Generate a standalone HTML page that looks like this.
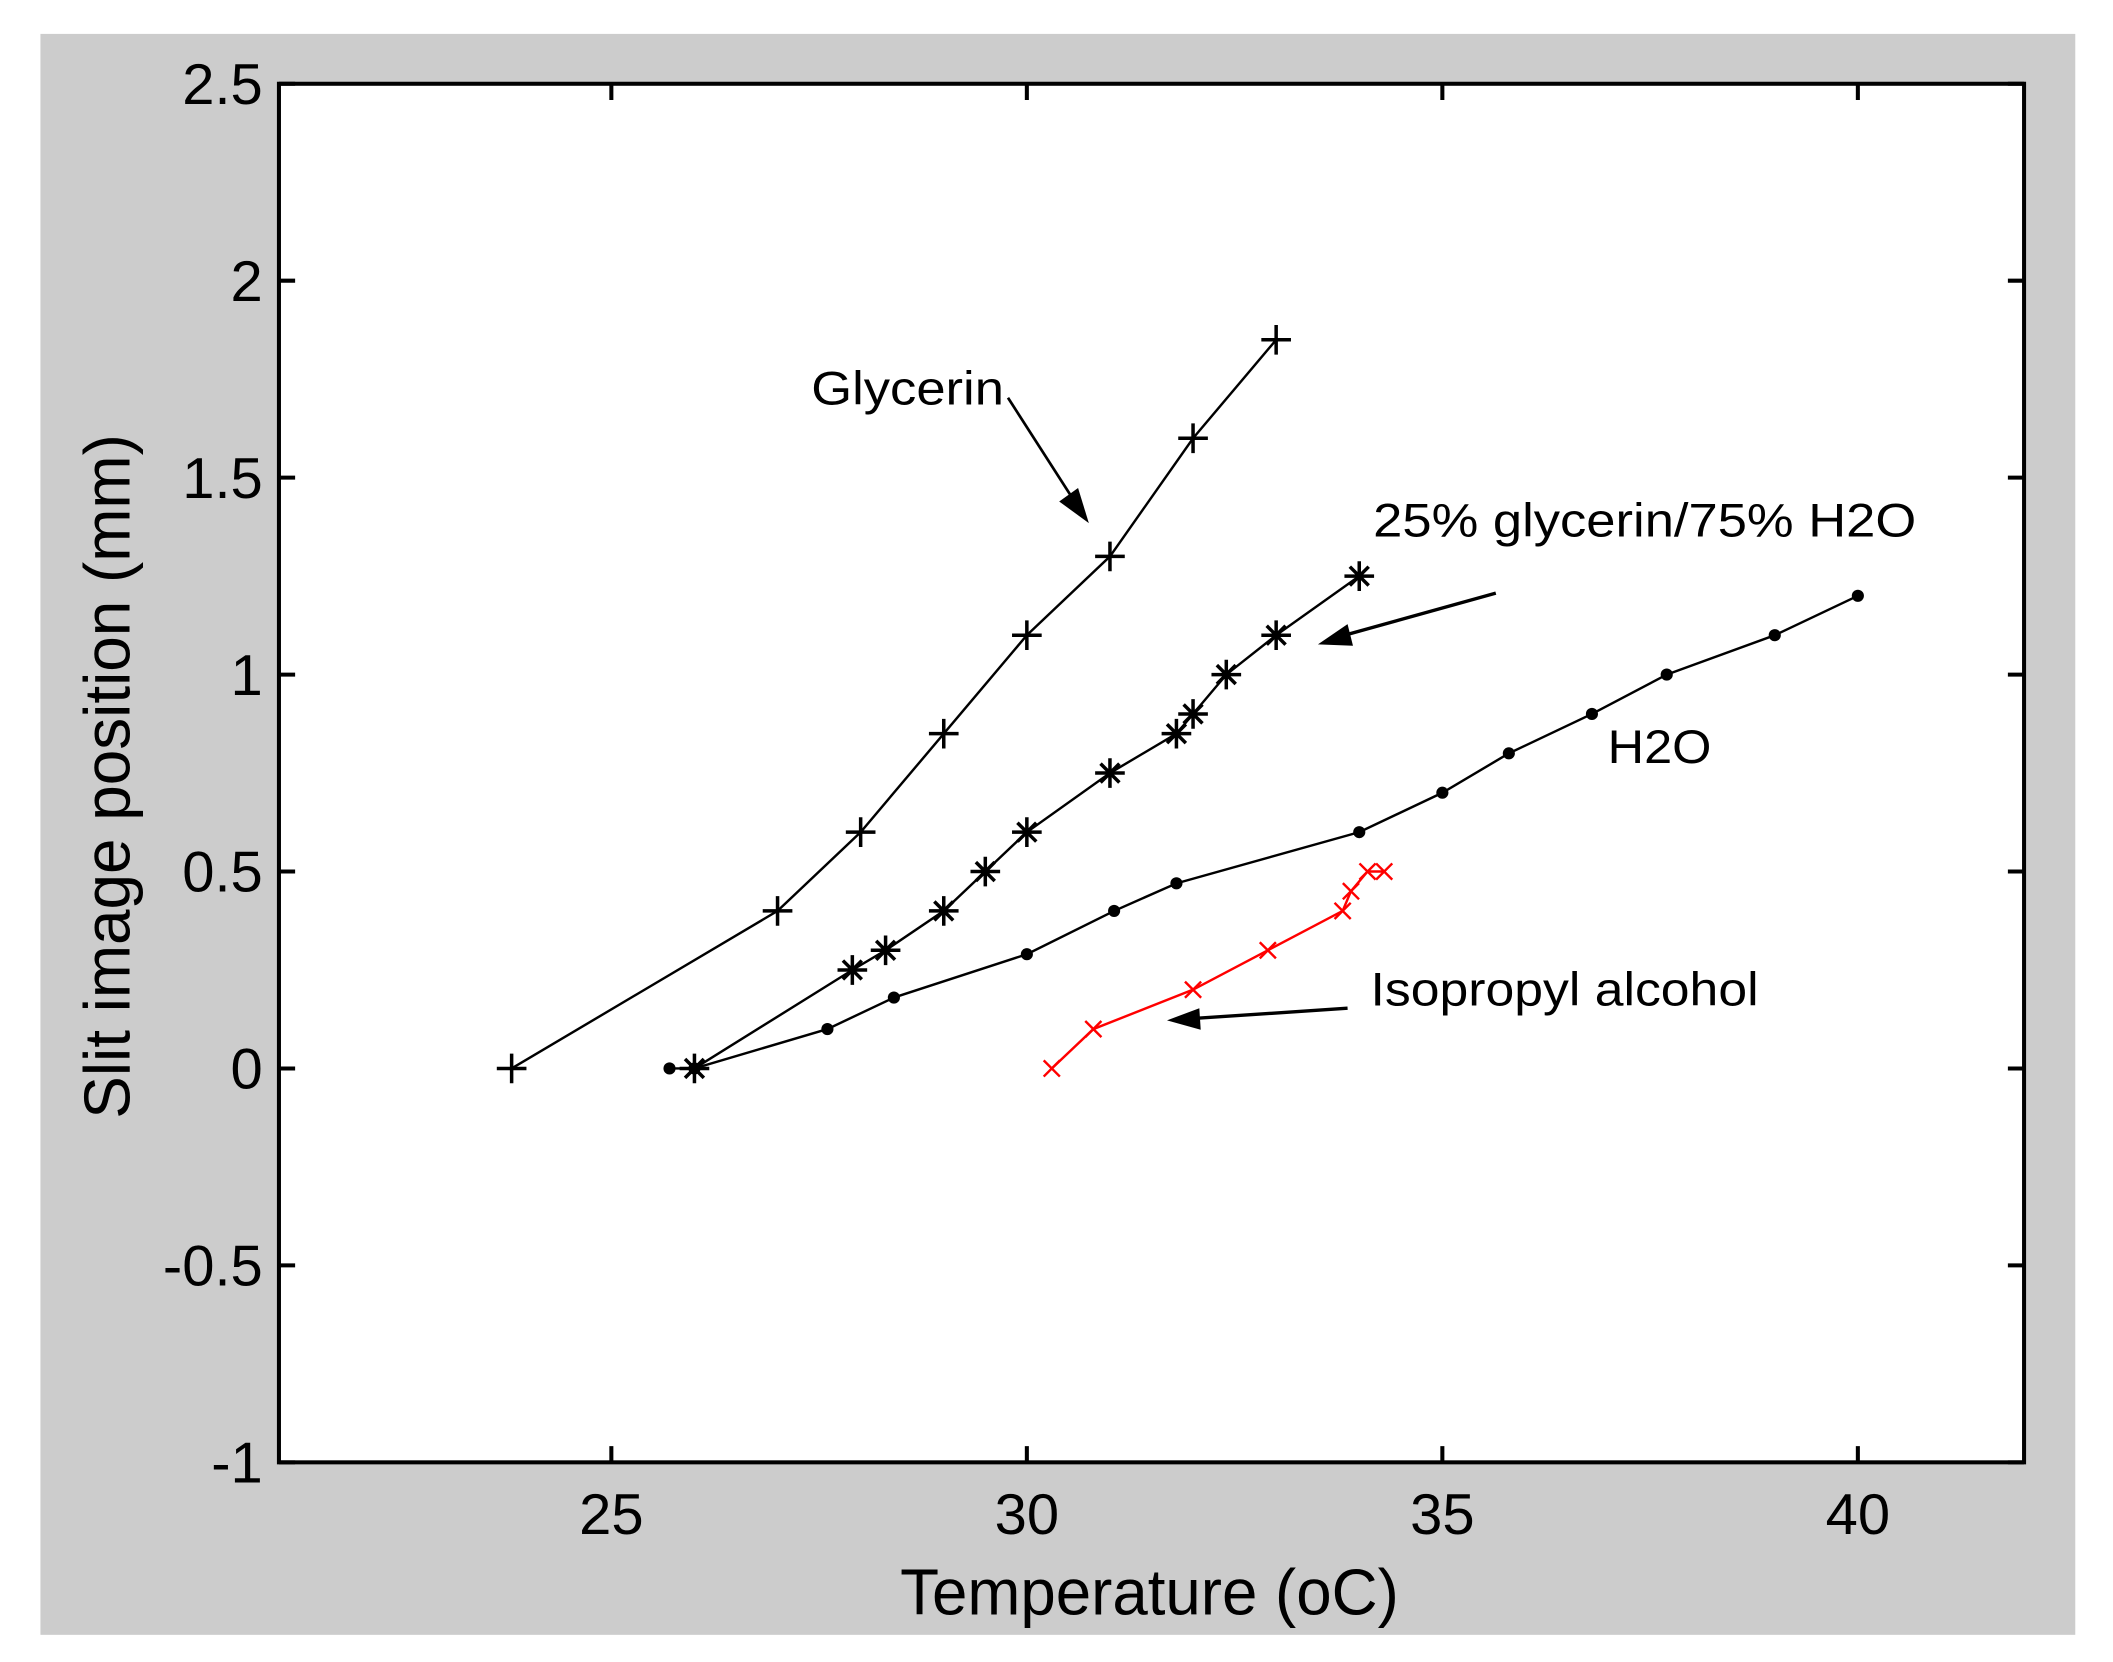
<!DOCTYPE html>
<html><head><meta charset="utf-8"><style>
html,body{margin:0;padding:0;background:#fff;}
svg{display:block;}
text{font-family:"Liberation Sans",Arial,sans-serif;fill:#000;}
</style></head><body>
<svg id="chart" width="2113" height="1662" viewBox="0 0 1568 1233" xmlns="http://www.w3.org/2000/svg">
<rect x="30" y="25" width="1510" height="1188" fill="#cccccc"/>
<rect x="207" y="62" width="1295" height="1023" fill="#fff"/>
<g id="marks"></g>
<g id="axes"></g>
<text x="668" y="1198" font-size="48" textLength="370" lengthAdjust="spacingAndGlyphs">Temperature (oC)</text>
<text transform="translate(96,830) rotate(-90)" font-size="48" textLength="508" lengthAdjust="spacingAndGlyphs">Slit image position (mm)</text>
<g font-size="35">
<text x="602" y="300" textLength="143" lengthAdjust="spacingAndGlyphs">Glycerin</text>
<text x="1019" y="398" textLength="403" lengthAdjust="spacingAndGlyphs">25% glycerin/75% H2O</text>
<text x="1193" y="566" textLength="77" lengthAdjust="spacingAndGlyphs">H2O</text>
<text x="1017" y="746" textLength="288" lengthAdjust="spacingAndGlyphs">Isopropyl alcohol</text>
<line x1="748" y1="295" x2="800" y2="376" stroke="#000" stroke-width="2"/>
<polygon points="808,388 786,372 800,362" fill="#000"/>
<line x1="1110" y1="440" x2="995" y2="472" stroke="#000" stroke-width="2.5"/>
<polygon points="978,478 1000,463 1004,479" fill="#000"/>
<line x1="1000" y1="748" x2="880" y2="756" stroke="#000" stroke-width="2.5"/>
<polygon points="866,757 890,748 891,764" fill="#000"/>
</g>
</svg>
<script>
const xTicks=[25,30,35,40];
const yTicks=[-1,-0.5,0,0.5,1,1.5,2,2.5];
const yTickLabels=["-1","-0.5","0","0.5","1","1.5","2","2.5"];
const glycerinX=[23.8,27,28,29,30,31,32,33];
const glycerinY=[0,0.4,0.6,0.85,1.1,1.3,1.6,1.85];
const mixX=[26,27.9,28.3,29,29.5,30,31,31.8,32,32.4,33,34];
const mixY=[0,0.25,0.3,0.4,0.5,0.6,0.75,0.85,0.9,1.0,1.1,1.25];
const waterX=[25.7,26,27.6,28.4,30,31.05,31.8,34,35,35.8,36.8,37.7,39,40];
const waterY=[0,0,0.1,0.18,0.29,0.4,0.47,0.6,0.7,0.8,0.9,1.0,1.1,1.2];
const isoX=[30.3,30.8,32,32.9,33.8,33.9,34.1,34.3];
const isoY=[0,0.1,0.2,0.3,0.4,0.45,0.5,0.5];
const L=207,R=1502,T=62,B=1085,XMIN=21,XMAX=42,YMIN=-1,YMAX=2.5;
const sx=v=>L+(v-XMIN)/(XMAX-XMIN)*(R-L);
const sy=v=>B-(v-YMIN)/(YMAX-YMIN)*(B-T);
const NS="http://www.w3.org/2000/svg";
const marks=document.getElementById('marks'),axes=document.getElementById('axes');
function mk(tag,attrs,parent){const e=document.createElementNS(NS,tag);for(const k in attrs)e.setAttribute(k,attrs[k]);parent.appendChild(e);return e;}
function series(xs,ys,name,color,marker){
  const g=mk('g',{},marks);
  
  
  const pl=mk('polyline',{points:xs.map((x,i)=>sx(x)+','+sy(ys[i])).join(' '),fill:'none',stroke:color,'stroke-width':1.8},g);
  
  
  xs.forEach((x,i)=>{
    const cx=sx(x),cy=sy(ys[i]);let d='';
    if(marker==='+'){d=`M${cx-11},${cy}H${cx+11}M${cx},${cy-11}V${cy+11}`;}
    else if(marker==='*'){d=`M${cx-11},${cy}H${cx+11}M${cx},${cy-11}V${cy+11}M${cx-7},${cy-7}L${cx+7},${cy+7}M${cx-7},${cy+7}L${cx+7},${cy-7}`;}
    else if(marker==='x'){d=`M${cx-6},${cy-6}L${cx+6},${cy+6}M${cx-6},${cy+6}L${cx+6},${cy-6}`;}
    let m;
    if(marker==='.'){m=mk('circle',{cx:cx,cy:cy,r:4.5,fill:color},g);}
    else{m=mk('path',{d:d,stroke:color,'stroke-width':marker==='x'?1.8:2.6,fill:'none'},g);}
    
    
  });
}
series(glycerinX,glycerinY,'glycerin','#000','+');
series(mixX,mixY,'glycerin-water-mix','#000','*');
series(waterX,waterY,'water','#000','.');
series(isoX,isoY,'isopropyl','#ff0000','x');
const box=mk('rect',{x:L,y:T,width:R-L,height:B-T,fill:'none',stroke:'#000','stroke-width':3},axes);


xTicks.forEach(v=>{
  const x=sx(v);
  const t=mk('path',{d:`M${x},${B}V${B-12}M${x},${T}V${T+12}`,stroke:'#000','stroke-width':3},axes);
  
  
  const lb=mk('text',{x:x,y:1138,'font-size':43,'text-anchor':'middle'},axes);
  lb.textContent=String(v);
  
  
});
yTicks.forEach((v,i)=>{
  const y=sy(v);
  const t=mk('path',{d:`M${L},${y}H${L+12}M${R},${y}H${R-12}`,stroke:'#000','stroke-width':3},axes);
  
  
  const lb=mk('text',{x:195,y:y+15,'font-size':43,'text-anchor':'end'},axes);
  lb.textContent=yTickLabels[i];
  
  
});
</script>
</body></html>
